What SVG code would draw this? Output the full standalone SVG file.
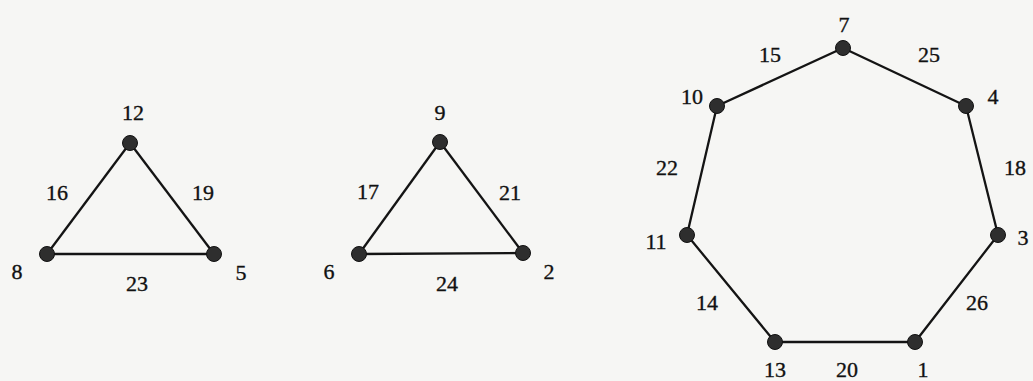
<svg xmlns="http://www.w3.org/2000/svg" width="1033" height="381" viewBox="0 0 1033 381">
<style>
.bg{fill:#f6f6f4}
.e{stroke:#141414;stroke-width:2.3;fill:none}
.n{fill:#2e2e2e;stroke:#111;stroke-width:1}
text{font-family:"Liberation Serif","Times New Roman",serif;font-size:22px;fill:#111;stroke:#111;stroke-width:0.35;text-anchor:middle}
</style>
<rect class="bg" x="0" y="0" width="1033" height="381"/>
<g id="connectors">
<line class="e" x1="130" y1="143" x2="47" y2="254"/>
<line class="e" x1="130" y1="143" x2="214" y2="254"/>
<line class="e" x1="47" y1="254" x2="214" y2="254"/>
<line class="e" x1="440" y1="142" x2="359" y2="254"/>
<line class="e" x1="440" y1="142" x2="523" y2="253"/>
<line class="e" x1="359" y1="254" x2="523" y2="253"/>
<polygon class="e" points="843,48 966,106 998,235 915,342 775,342 687,235 717,106"/>
<text x="57" y="200">16</text>
<text x="203" y="200">19</text>
<text x="137" y="291">23</text>
<text x="368" y="199">17</text>
<text x="510" y="200">21</text>
<text x="447" y="291">24</text>
<text x="770" y="62">15</text>
<text x="929" y="62">25</text>
<text x="1015" y="175">18</text>
<text x="977" y="310">26</text>
<text x="847" y="377">20</text>
<text x="707" y="310">14</text>
<text x="667" y="175">22</text>
</g>
<g id="n12"><circle class="n" cx="130" cy="143" r="7.5"/><text x="133" y="120">12</text></g>
<g id="n8"><circle class="n" cx="47" cy="254" r="7.5"/><text x="17" y="279">8</text></g>
<g id="n5"><circle class="n" cx="214" cy="254" r="7.5"/><text x="241" y="280">5</text></g>
<g id="n9"><circle class="n" cx="440" cy="142" r="7.5"/><text x="440" y="120">9</text></g>
<g id="n6"><circle class="n" cx="359" cy="254" r="7.5"/><text x="329" y="279">6</text></g>
<g id="n2"><circle class="n" cx="523" cy="253" r="7.5"/><text x="549" y="279">2</text></g>
<g id="n7"><circle class="n" cx="843" cy="48" r="7.5"/><text x="844" y="32">7</text></g>
<g id="n4"><circle class="n" cx="966" cy="106" r="7.5"/><text x="993" y="104">4</text></g>
<g id="n3"><circle class="n" cx="998" cy="235" r="7.5"/><text x="1023" y="245">3</text></g>
<g id="n1"><circle class="n" cx="915" cy="342" r="7.5"/><text x="923" y="377">1</text></g>
<g id="n13"><circle class="n" cx="775" cy="342" r="7.5"/><text x="775" y="377">13</text></g>
<g id="n11"><circle class="n" cx="687" cy="235" r="7.5"/><text x="656" y="249">11</text></g>
<g id="n10"><circle class="n" cx="717" cy="106" r="7.5"/><text x="692" y="104">10</text></g>
</svg>
